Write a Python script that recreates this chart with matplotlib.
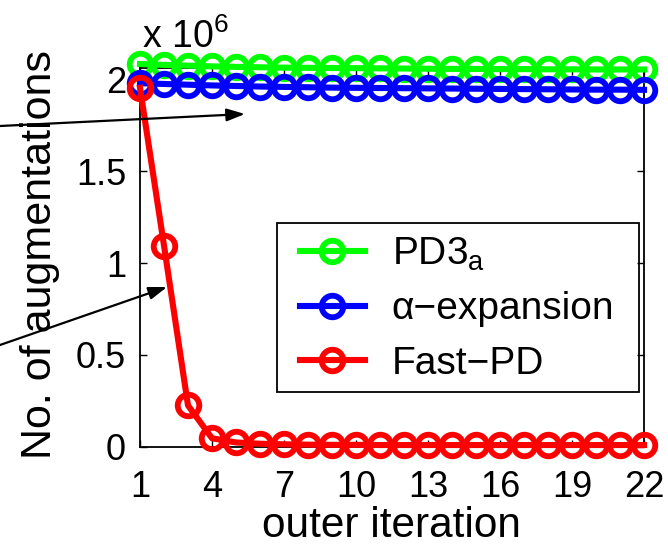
import matplotlib
matplotlib.use("Agg")
import matplotlib.pyplot as plt
from matplotlib.ticker import FuncFormatter
from matplotlib.patches import Rectangle

plt.rcParams['font.family'] = ['Liberation Sans', 'DejaVu Sans']
plt.rcParams['mathtext.fontset'] = 'custom'
plt.rcParams['mathtext.rm'] = 'Liberation Sans'
plt.rcParams['mathtext.it'] = 'Liberation Sans'
plt.rcParams['mathtext.default'] = 'regular'

iterations = list(range(1, 23))
pd3a = [2.085e6, 2.080e6, 2.076e6, 2.072e6, 2.069e6, 2.067e6, 2.065e6, 2.064e6,
        2.063e6, 2.062e6, 2.061e6, 2.060e6, 2.059e6, 2.058e6, 2.058e6, 2.057e6,
        2.057e6, 2.056e6, 2.056e6, 2.055e6, 2.055e6, 2.055e6]
alpha_exp = [1.980e6, 1.976e6, 1.972e6, 1.968e6, 1.965e6, 1.962e6, 1.960e6, 1.958e6,
             1.956e6, 1.955e6, 1.954e6, 1.953e6, 1.952e6, 1.951e6, 1.950e6, 1.949e6,
             1.948e6, 1.947e6, 1.946e6, 1.945e6, 1.945e6, 1.944e6]
fast_pd = [1.955e6, 1.095e6, 0.224e6, 0.045e6, 0.022e6, 0.015e6, 0.012e6, 0.010e6,
           0.009e6, 0.009e6, 0.008e6, 0.008e6, 0.008e6, 0.008e6, 0.008e6, 0.008e6,
           0.008e6, 0.008e6, 0.008e6, 0.008e6, 0.008e6, 0.008e6]
labels = ['PD3$_a$', 'α−expansion', 'Fast−PD']
colors = ['#00ff00', '#0000ff', '#ff0000']
xticks = [1, 4, 7, 10, 13, 16, 19, 22]
yticks = [0, 0.5e6, 1e6, 1.5e6, 2e6]

W, H = 668, 548
fig = plt.figure(figsize=(W/100, H/100), dpi=100)
L, R, B, T = 140, 644, 446.5, 68
ax = fig.add_axes([L/W, 1-B/H, (R-L)/W, (B-T)/H])

for ys, lab, c in zip([pd3a, alpha_exp, fast_pd], labels, colors):
    ax.plot(iterations, ys, color=c, lw=4.4, marker='o', ms=15.5, mfc='none',
            mec=c, mew=4.2, label=lab, clip_on=False, zorder=3)

ax.set_xlim(1, 22)
ax.set_ylim(0, 2.063e6)
ax.set_xticks(xticks)
ax.set_yticks(yticks)
ax.yaxis.set_major_formatter(FuncFormatter(lambda v, p: ('%g' % (v / 1e6))))
ax.tick_params(direction='in', length=5, width=1, labelsize=26, top=True, right=True)
ax.tick_params(axis='x', pad=17)
ax.tick_params(axis='y', pad=10)
for s in ax.spines.values():
    s.set_linewidth(1.3)

ax.set_xlabel('outer iteration', fontsize=30.5, va='baseline')
ax.xaxis.set_label_coords((391-L)/(R-L), (B-537)/(B-T))
ax.set_ylabel('No. of augmentations', fontsize=31, va='center')
ax.yaxis.set_label_coords((40-L)/(R-L), (B-255)/(B-T))
fig.text(142/W, 1-48/H, 'x 10$^6$', fontsize=27, ha='left', va='baseline')

# legend content (frame drawn separately to match the reference box)
leg = ax.legend(loc='upper left', bbox_to_anchor=((300-L)/(R-L), (B-235.7)/(B-T)),
                borderaxespad=0, fontsize=28, frameon=False,
                handlelength=1.67, handletextpad=0.69,
                borderpad=0, labelspacing=0.47, markerscale=1.0)
fig.add_artist(Rectangle((277/W, 1-392/H), (639-277)/W, (392-223)/H,
                         transform=fig.transFigure, facecolor='none',
                         edgecolor='black', lw=1.3))

def arrow(x0, y0, x1, y1):
    ax.annotate('', xy=(x1/W, 1-y1/H), xycoords='figure fraction',
                xytext=(x0/W, 1-y0/H), textcoords='figure fraction',
                arrowprops=dict(arrowstyle='-|>,head_length=1.1,head_width=0.38',
                                color='black', lw=1.6, shrinkA=0, shrinkB=0),
                annotation_clip=False, zorder=5)

arrow(0, 126, 245, 114)
arrow(0, 345, 167, 287)

fig.savefig('out.png', dpi=100)
